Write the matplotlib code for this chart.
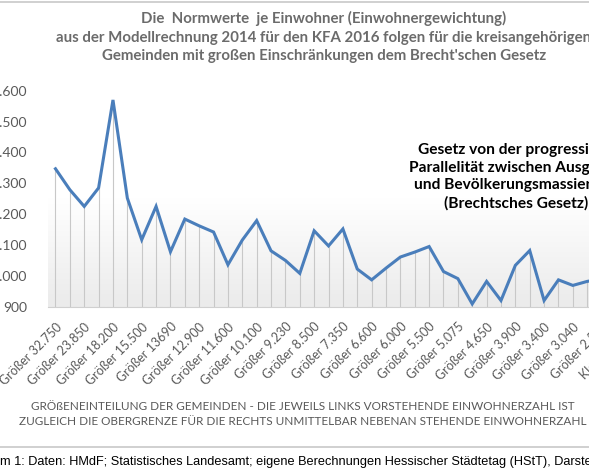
import numpy as np
import matplotlib
matplotlib.use("Agg")
import matplotlib.pyplot as plt
from matplotlib.lines import Line2D
from matplotlib.colors import LinearSegmentedColormap
from matplotlib.ticker import FuncFormatter

plt.rcParams['font.family'] = ['Lato', 'DejaVu Sans']

# Normwerte je Einwohner (first 39 categories, rest is cut off)
values = [1347, 1279, 1225, 1285, 1570, 1252, 1117, 1225, 1078, 1184,
          1162, 1142, 1036, 1116, 1179, 1081, 1050, 1008, 1146, 1097,
          1152, 1022, 987, 1025, 1061, 1077, 1095, 1014, 991, 909,
          982, 920, 1034, 1082, 920, 987, 969, 982, 990]

# only every second category is labelled
tick_labels = ["Größer 32.750", "Größer 23.850", "Größer 18.200", "Größer 15.500",
               "Größer 13690", "Größer 12.900", "Größer 11.600", "Größer 10.100",
               "Größer 9.230", "Größer 8.500", "Größer 7.350", "Größer 6.600",
               "Größer 6.000", "Größer 5.500", "Größer 5.075", "Größer 4.650",
               "Größer 3.900", "Größer 3.400", "Größer 3.040", "Größer 2.500",
               "Kleiner 2.500"]
n_categories = 41
y_ticks = [900, 1000, 1100, 1200, 1300, 1400, 1500, 1600]

title = ("Die  Normwerte  je Einwohner (Einwohnergewichtung)\n"
         "aus der Modellrechnung 2014 für den KFA 2016 folgen für die kreisangehörigen\n"
         "Gemeinden mit großen Einschränkungen dem Brecht'schen Gesetz")
box_text = ("Gesetz von der progressiven\nParallelität zwischen Ausgaben\n"
            "und Bevölkerungsmassierung\n(Brechtsches Gesetz)")
xlabel = ("GRÖßENEINTEILUNG DER GEMEINDEN - DIE JEWEILS LINKS VORSTEHENDE EINWOHNERZAHL IST\n"
          "ZUGLEICH DIE OBERGRENZE FÜR DIE RECHTS UNMITTELBAR NEBENAN STEHENDE EINWOHNERZAHL")
caption = ("Diagramm 1: Daten: HMdF; Statistisches Landesamt; eigene Berechnungen "
           "Hessischer Städtetag (HStT), Darstellung: HStT")

W, H = 589, 475
fig = plt.figure(figsize=(W / 100, H / 100), dpi=100)
gray = "#595959"

# plot area, it runs past the right edge like in the cropped original
ax = fig.add_axes([48.3 / W, 1 - 306.7 / H, 589.2 / W, 216.0 / H])
x = np.arange(len(values))

grad = LinearSegmentedColormap.from_list("g", ["#ffffff", "#ffffff", "#ebebeb"])
ax.imshow(np.linspace(0, 1, 100).reshape(-1, 1), cmap=grad, aspect="auto",
          extent=[-0.5, n_categories - 0.5, 900, 1600], origin="upper", zorder=0)

ax.vlines(x, 900, values, color="#c8c8c8", lw=0.8, zorder=1)
ax.plot(x, values, color="#4a7ebb", lw=2.2, zorder=2, solid_joinstyle="miter")

ax.set_xlim(-0.5, n_categories - 0.5)
ax.set_ylim(900, 1600)
ax.set_yticks(y_ticks)
ax.yaxis.set_major_formatter(FuncFormatter(lambda v, p: f"{int(v):,}".replace(",", ".")))
ax.set_xticks(np.arange(0, n_categories, 2))
ax.set_xticklabels(tick_labels, rotation=45, ha="right", rotation_mode="anchor")
ax.tick_params(axis="y", length=0, pad=15, labelsize=10, labelcolor=gray)
ax.tick_params(axis="x", length=0, pad=10, labelsize=9, labelcolor=gray)
for s in ["top", "right", "left"]:
    ax.spines[s].set_visible(False)
ax.spines["bottom"].set_color("#d0d0d0")

fig.text(324 / W, 1 - 37 / H, title, ha="center", va="center", fontsize=10.8,
         fontweight="bold", color="#6b6b6b", linespacing=1.4)
fig.text(516 / W, 1 - 177 / H, box_text, ha="center", va="center", fontsize=11.2,
         fontweight="bold", color="black", linespacing=1.33)
fig.text(303 / W, 1 - 414 / H, xlabel, ha="center", va="center", fontsize=8.5,
         color=gray, linespacing=1.35)

# caption starts left of the picture, "Diagram" is cut off
r = fig.canvas.get_renderer()
t = fig.text(0, 0, "Diagram", fontsize=9.2, family="Liberation Sans")
off = t.get_window_extent(r).width
t.remove()
fig.text(-off / W, 1 - 462 / H, caption, ha="left", va="center", fontsize=9.2,
         family="Liberation Sans", color="black")

fig.add_artist(Line2D([0, 1], [1 - 1.5 / H] * 2, color="#c8c8c8", lw=1.2))
fig.add_artist(Line2D([0, 1], [1 - 447 / H] * 2, color="#c8c8c8", lw=1.2))

fig.savefig("out.png", dpi=100)
